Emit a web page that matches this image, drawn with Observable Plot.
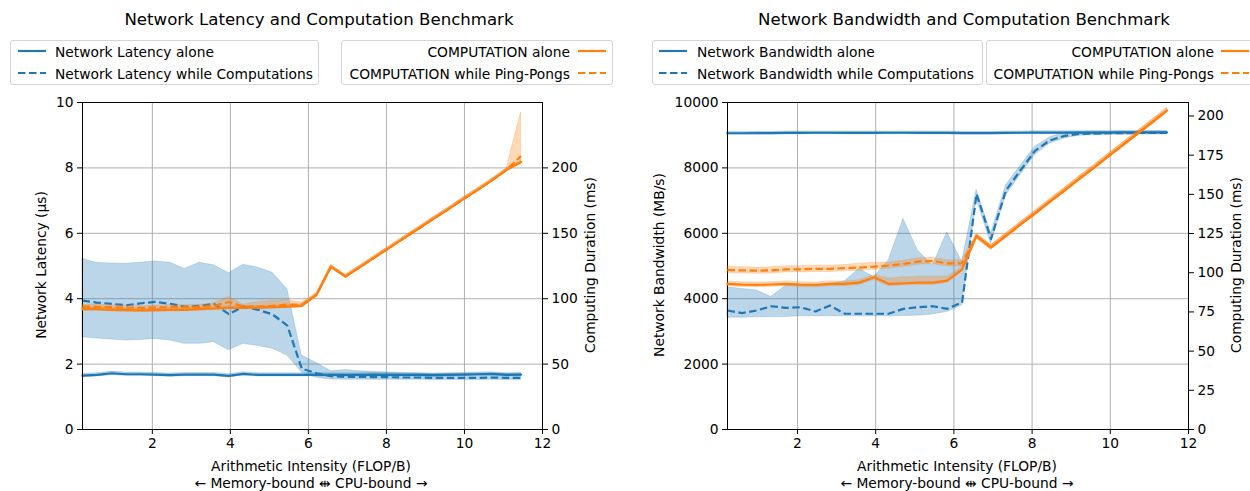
<!DOCTYPE html>
<html><head><meta charset="utf-8">
<script src="https://cdn.jsdelivr.net/npm/d3@7"></script>
<script src="https://cdn.jsdelivr.net/npm/@observablehq/plot@0.6"></script>
<style>
body{margin:0;background:#fff;font-family:"DejaVu Sans",sans-serif;color:#000;}
#wrap{position:relative;width:1250px;height:491px;overflow:hidden;background:#fff;}
.t{position:absolute;white-space:nowrap;line-height:1;color:#000;}
.box{position:absolute;border:1px solid #d4d4d4;border-radius:3px;background:#fff;box-sizing:border-box;}
svg.ov{position:absolute;}
</style></head><body><div id="wrap"></div>
<script>
// ---- shared x values (Arithmetic Intensity, FLOP/B)
const xs = [0.21,0.58,0.96,1.33,1.71,2.08,2.46,2.83,3.21,3.58,3.96,4.33,4.71,5.08,5.46,5.83,6.21,6.58,6.95,7.33,7.70,8.08,8.45,8.83,9.20,9.58,9.95,10.33,10.70,11.08,11.45];
const xTicks = [2,4,6,8,10,12];

// ---- Left panel: latency (µs)
const latAlone   = [1.65,1.67,1.72,1.69,1.69,1.68,1.66,1.68,1.68,1.68,1.64,1.70,1.67,1.67,1.67,1.67,1.67,1.67,1.67,1.67,1.68,1.67,1.67,1.67,1.66,1.67,1.68,1.69,1.70,1.67,1.68];
const latAloneLo = [1.60,1.62,1.66,1.64,1.64,1.63,1.61,1.63,1.63,1.63,1.59,1.65,1.62,1.62,1.62,1.62,1.62,1.62,1.62,1.62,1.63,1.62,1.62,1.62,1.61,1.62,1.63,1.64,1.65,1.62,1.63];
const latAloneHi = [1.70,1.72,1.77,1.74,1.74,1.73,1.71,1.73,1.73,1.73,1.69,1.75,1.72,1.72,1.72,1.72,1.72,1.72,1.72,1.72,1.73,1.72,1.72,1.72,1.71,1.72,1.73,1.74,1.75,1.72,1.73];
const latComp    = [3.94,3.88,3.84,3.80,3.86,3.90,3.84,3.76,3.78,3.84,3.53,3.76,3.66,3.52,3.18,1.86,1.72,1.63,1.61,1.61,1.60,1.60,1.59,1.59,1.58,1.58,1.58,1.58,1.59,1.58,1.58];
const latCompLo  = [2.82,2.78,2.75,2.72,2.74,2.77,2.72,2.62,2.62,2.67,2.42,2.62,2.55,2.47,2.26,1.75,1.58,1.53,1.52,1.52,1.52,1.52,1.52,1.52,1.51,1.51,1.51,1.51,1.52,1.51,1.51];
const latCompHi  = [5.22,5.09,5.08,5.07,5.10,5.14,5.10,4.91,5.10,5.02,4.78,5.04,4.95,4.79,4.30,2.26,2.03,1.78,1.82,1.78,1.76,1.74,1.72,1.71,1.70,1.70,1.70,1.70,1.71,1.70,1.70];

// ---- Left panel: computation (ms)
const compAloneL   = [92.0,92.0,91.5,91.2,91.0,91.3,91.5,91.5,92.0,92.5,93.0,93.0,93.2,93.5,94.0,94.5,103.0,124.5,117.0,124.3,131.6,139.0,146.3,153.7,161.0,168.3,175.7,183.0,190.4,198.5,204.5];
const compAloneLLo = [90.8,90.8,90.3,90.0,89.8,90.1,90.3,90.3,90.8,91.3,91.8,91.8,92.0,92.3,92.8,93.3,101.8,123.3,115.8,123.1,130.4,137.8,145.1,152.5,159.8,167.1,174.5,181.8,189.2,197.3,203.0];
const compAloneLHi = [93.2,93.2,92.7,92.4,92.2,92.5,92.7,92.7,93.2,93.7,94.2,94.2,94.4,94.7,95.2,95.7,104.2,125.7,118.2,125.5,132.8,140.2,147.5,154.9,162.2,169.5,176.9,184.2,191.6,199.7,206.0];
const compPingL    = [94.0,93.8,93.5,93.2,93.0,93.3,93.5,93.5,93.8,94.5,97.5,94.0,94.0,94.5,95.5,95.5,103.0,124.5,117.0,124.3,131.6,139.0,146.3,153.7,161.0,168.3,175.7,183.0,190.4,198.5,209.0];
const compPingLLo  = [92.5,92.3,92.0,91.7,91.5,91.8,92.0,92.0,92.3,93.0,94.0,92.5,92.5,93.0,93.5,93.5,101.8,123.3,115.8,123.1,130.4,137.8,145.1,152.5,159.8,167.1,174.5,181.8,189.2,197.3,203.0];
const compPingLHi  = [95.5,95.3,95.0,94.7,94.5,94.8,95.0,95.0,95.3,96.5,101.5,95.5,97.5,98.5,99.0,97.0,104.2,125.7,118.2,125.5,132.8,140.2,147.5,154.9,162.2,169.5,176.9,184.2,191.6,199.7,242.5];

// ---- Right panel: bandwidth (MB/s)
const bwAlone   = [9060,9060,9065,9065,9070,9070,9075,9075,9070,9070,9070,9075,9075,9070,9070,9070,9065,9065,9065,9070,9075,9080,9080,9080,9080,9080,9080,9085,9085,9085,9085];
const bwAloneLo = [9020,9020,9025,9025,9030,9030,9035,9035,9030,9030,9030,9035,9035,9030,9030,9030,9025,9025,9025,9030,9035,9040,9040,9040,9040,9040,9040,9045,9045,9045,9045];
const bwAloneHi = [9100,9100,9105,9105,9110,9110,9115,9115,9110,9110,9110,9115,9115,9110,9110,9110,9105,9105,9105,9110,9115,9120,9120,9120,9120,9120,9120,9125,9125,9125,9125];
const bwComp    = [3640,3560,3640,3770,3720,3740,3610,3790,3540,3540,3540,3540,3690,3740,3770,3690,3890,7200,5830,7310,7920,8530,8840,8980,9040,9050,9060,9060,9070,9070,9070];
const bwCompLo  = [3420,3420,3430,3440,3440,3460,3460,3460,3460,3460,3460,3460,3470,3480,3520,3590,3790,7050,5680,7150,7780,8400,8740,8900,8980,9000,9010,9010,9020,9020,9020];
const bwCompHi  = [4350,4300,4250,4050,4400,4400,4400,4450,4530,4910,4660,5170,6440,5470,5010,6030,5120,7330,5990,7460,8060,8650,8930,9080,9100,9110,9110,9110,9110,9110,9110];

// ---- Right panel: computation (ms)
const compAloneR   = [92.9,92.4,92.2,92.5,92.9,92.4,92.2,92.9,92.9,93.7,97.1,92.9,93.3,93.7,93.7,95.0,102.2,123.4,116.2,123.5,130.8,138.0,145.3,152.6,159.9,167.1,174.4,181.7,188.9,196.2,203.5];
const compAloneRLo = [91.4,90.9,90.7,91.0,91.4,90.9,90.7,91.4,91.4,92.2,95.6,91.4,91.8,92.2,92.2,93.5,100.7,121.9,114.7,122.0,129.3,136.5,143.8,151.1,158.4,165.6,172.9,180.2,187.4,194.7,202.0];
const compAloneRHi = [94.4,93.9,93.7,94.0,94.4,93.9,93.7,94.4,94.4,95.2,98.6,96.5,97.0,97.5,97.5,97.5,103.7,124.9,117.7,125.0,132.3,139.5,146.8,154.1,161.4,168.6,175.9,183.2,190.4,197.7,205.0];
const compPingR    = [101.8,101.5,101.3,101.5,102.2,102.2,102.5,102.5,102.9,103.3,103.9,104.5,105.6,107.1,107.5,106.0,106.0,123.4,116.2,123.5,130.8,138.0,145.3,152.6,159.9,167.1,174.4,181.7,188.9,196.2,203.5];
const compPingRLo  = [99.8,99.5,99.3,99.5,100.2,100.2,100.5,100.5,100.9,101.3,101.9,102.5,103.6,105.1,105.5,104.0,104.0,121.9,114.7,122.0,129.3,136.5,143.8,151.1,158.4,165.6,172.9,180.2,187.4,194.7,202.0];
const compPingRHi  = [103.8,103.5,103.3,103.5,104.2,104.2,104.5,104.5,104.9,105.8,106.4,106.5,107.6,109.1,109.5,108.0,108.0,124.9,117.7,125.0,132.3,139.5,146.8,154.1,161.4,168.6,175.9,183.2,190.4,197.7,205.0];

const BLUE = "#1f77b4", ORANGE = "#ff7f0e";
const DASH = "7.5,3.5";
const FS = 13.8;
const DY = 1.5;
const wrap = document.getElementById("wrap");

function rows(lo, mid, hi){ return xs.map((x,i)=>({x, lo:lo[i], y:mid[i], hi:hi[i]})); }

function txt(str, x, y, o={}){
  const d = document.createElement("div");
  d.className = "t"; d.textContent = str;
  d.style.fontSize = (o.size||FS) + "px";
  d.style.left = x + "px"; d.style.top = (y + (o.rotate ? 0 : DY)) + "px";
  const tx = o.anchor==="end" ? "-100%" : o.anchor==="start" ? "0" : "-50%";
  d.style.transform = `translate(${tx},-50%)` + (o.rotate ? ` rotate(${o.rotate}deg)` : "");
  wrap.appendChild(d);
}

function sample(x, y, color, dashed){
  const s = document.createElementNS("http://www.w3.org/2000/svg","svg");
  s.setAttribute("width", 30); s.setAttribute("height", 6);
  s.style.position = "absolute"; s.style.left = x + "px"; s.style.top = (y-3) + "px";
  const l = document.createElementNS("http://www.w3.org/2000/svg","line");
  l.setAttribute("x1",0); l.setAttribute("x2",28); l.setAttribute("y1",3); l.setAttribute("y2",3);
  l.setAttribute("stroke",color); l.setAttribute("stroke-width",2.2);
  if (dashed) l.setAttribute("stroke-dasharray", DASH);
  s.appendChild(l); wrap.appendChild(s);
}

function box(x, y, w, h){
  const b = document.createElement("div"); b.className = "box";
  b.style.left = x+"px"; b.style.top = y+"px"; b.style.width = w+"px"; b.style.height = h+"px";
  wrap.appendChild(b);
}

const TOP = 95, H = 396, MT = 7, MB = 62;
const style = {fontFamily:"DejaVu Sans, sans-serif", fontSize:FS+"px", color:"#000", background:"transparent", overflow:"visible"};

function band(data, color, op){ return Plot.areaY(data, {x:"x", y1:"lo", y2:"hi", fill:color, fillOpacity:op, stroke:color, strokeOpacity:0.2, strokeWidth:1}); }
function line(data, color, dashed){ return Plot.lineY(data, {x:"x", y:"y", stroke:color, strokeWidth:2.2, strokeDasharray: dashed ? DASH : null, strokeLinecap: dashed ? "butt" : "round"}); }

function panel({left, mL, mR, yDom, yTicks, yFmt, rDom, rTicks, blueA, blueC, orA, orP}){
  const common = {width:625, height:H, marginTop:MT, marginBottom:MB, marginLeft:mL, marginRight:mR, style};
  const p1 = Plot.plot({
    ...common,
    x:{domain:[0.21,12]},
    y:{domain:yDom},
    marks:[
      Plot.gridX({ticks:xTicks, stroke:"#b0b0b0", strokeOpacity:1, strokeWidth:1}),
      Plot.gridY({ticks:yTicks, stroke:"#b0b0b0", strokeOpacity:1, strokeWidth:1}),
      band(blueA, BLUE, 0.3), line(blueA, BLUE, false),
      band(blueC, BLUE, 0.3), line(blueC, BLUE, true),
      Plot.frame({stroke:"#000", strokeWidth:1}),
      Plot.axisX({ticks:xTicks, tickSize:5, tickPadding:4, label:null, tickFormat:d=>String(d)}),
      Plot.axisY({ticks:yTicks, tickSize:5, tickPadding:4, label:null, tickFormat:yFmt})
    ]
  });
  const p2 = Plot.plot({
    ...common,
    x:{domain:[0.21,12], axis:null},
    y:{domain:rDom},
    marks:[
      band(orA, ORANGE, 0.3), line(orA, ORANGE, false),
      band(orP, ORANGE, 0.3), line(orP, ORANGE, true),
      Plot.axisY({anchor:"right", ticks:rTicks, tickSize:5, tickPadding:4, label:null, tickFormat:d=>String(d)})
    ]
  });
  for (const p of [p1,p2]){ p.classList.add("ov"); p.style.left = left+"px"; p.style.top = TOP+"px"; wrap.appendChild(p); }
}

// Left panel
panel({
  left:0, mL:82, mR:83,
  yDom:[0,10], yTicks:[0,2,4,6,8,10], yFmt:d=>String(d),
  rDom:[0,250], rTicks:[0,50,100,150,200],
  blueA: rows(latAloneLo, latAlone, latAloneHi),
  blueC: rows(latCompLo, latComp, latCompHi),
  orA: rows(compAloneLLo, compAloneL, compAloneLHi),
  orP: rows(compPingLLo, compPingL, compPingLHi)
});
// Right panel
panel({
  left:625, mL:102, mR:62,
  yDom:[0,10000], yTicks:[0,2000,4000,6000,8000,10000], yFmt:d=>String(d),
  rDom:[0,208.6], rTicks:[0,25,50,75,100,125,150,175,200],
  blueA: rows(bwAloneLo, bwAlone, bwAloneHi),
  blueC: rows(bwCompLo, bwComp, bwCompHi),
  orA: rows(compAloneRLo, compAloneR, compAloneRHi),
  orP: rows(compPingRLo, compPingR, compPingRHi)
});

// Titles
txt("Network Latency and Computation Benchmark", 319, 18, {size:16.6});
txt("Network Bandwidth and Computation Benchmark", 964, 18, {size:16.6});

// Axis labels
txt("Network Latency (µs)", 42, 265, {rotate:-90});
txt("Computing Duration (ms)", 591, 265, {rotate:-90});
txt("Network Bandwidth (MB/s)", 660, 265, {rotate:-90});
txt("Computing Duration (ms)", 1237, 265, {rotate:-90});
txt("Arithmetic Intensity (FLOP/B)", 311, 465);
txt("← Memory-bound ⇹ CPU-bound →", 311, 482);
txt("Arithmetic Intensity (FLOP/B)", 957, 465);
txt("← Memory-bound ⇹ CPU-bound →", 957, 482);

// Legends
box(10, 40, 309, 45);
sample(18, 51, BLUE, false); txt("Network Latency alone", 55, 51, {anchor:"start"});
sample(18, 73, BLUE, true);  txt("Network Latency while Computations", 55, 73, {anchor:"start"});
box(341, 40, 272, 45);
txt("COMPUTATION alone", 570, 51, {anchor:"end"}); sample(578, 51, ORANGE, false);
txt("COMPUTATION while Ping-Pongs", 570, 73, {anchor:"end"}); sample(578, 73, ORANGE, true);
box(652, 40, 331, 45);
sample(659, 51, BLUE, false); txt("Network Bandwidth alone", 697, 51, {anchor:"start"});
sample(659, 73, BLUE, true);  txt("Network Bandwidth while Computations", 697, 73, {anchor:"start"});
box(986, 40, 300, 45);
txt("COMPUTATION alone", 1214, 51, {anchor:"end"}); sample(1221, 51, ORANGE, false);
txt("COMPUTATION while Ping-Pongs", 1214, 73, {anchor:"end"}); sample(1221, 73, ORANGE, true);
</script></body></html>
